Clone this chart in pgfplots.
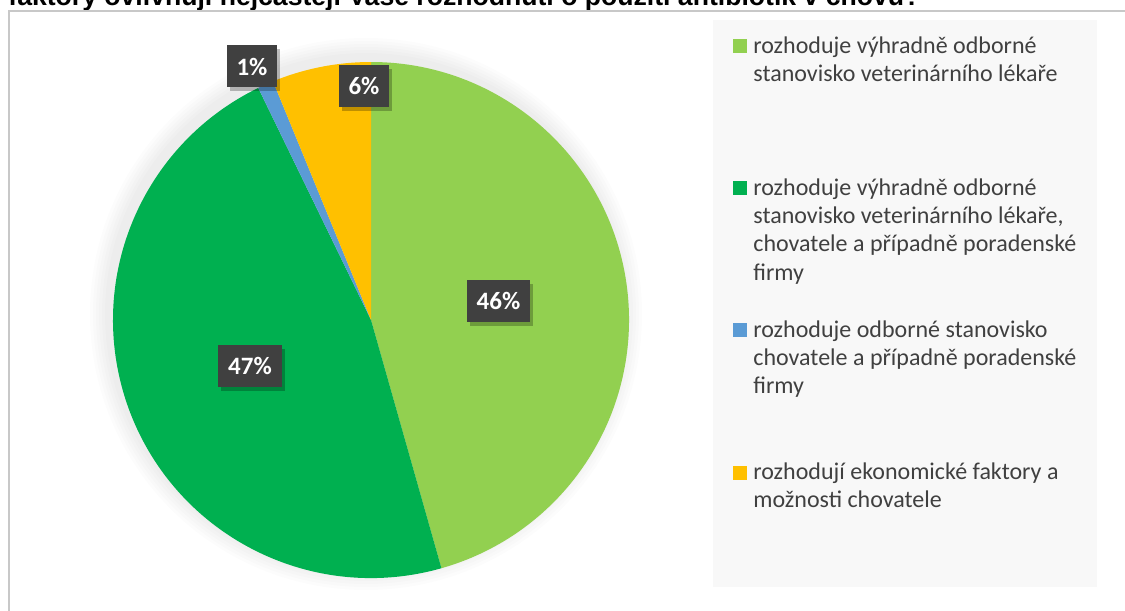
\documentclass[border=0pt]{standalone}
\usepackage{pgfplots}
\usepackage{pgfplotstable}
\pgfplotsset{compat=1.18}
\usepackage{fontspec}
\setmainfont{Carlito}
\newfontfamily\titlefont{Liberation Sans}

\definecolor{pie0}{HTML}{92D050}
\definecolor{pie1}{HTML}{00B050}
\definecolor{pie2}{HTML}{5B9BD5}
\definecolor{pie3}{HTML}{FFC000}
\definecolor{lblgray}{HTML}{404040}
\definecolor{legbg}{HTML}{F8F8F8}
\definecolor{framegray}{HTML}{C8C8C8}

% shares in percent, clockwise from 12 o'clock (labels show them rounded)
\pgfplotstableread{
share
45.6
47.2
1.0
6.2
}\pietable

\newcommand\legline[2]{\node[anchor=base west, inner sep=0pt, text=lblgray, font=\fontsize{12bp}{14bp}\selectfont] at (753,#1) {#2};}

\begin{document}
\begin{tikzpicture}[x=0.5bp, y=-0.5bp]
\clip (0,0) rectangle (1125,610);
\path[fill=white] (0,0) rectangle (1125,610);

% title, cut at the top as in the original
\node[anchor=base west, inner sep=0pt, font=\titlefont\bfseries\fontsize{13.3bp}{15bp}\selectfont] at (8,6)
  {faktory ovlivňují nejčastěji Vaše rozhodnutí o použití antibiotik v chovu?};

% chart frame
\draw[framegray, line width=1bp] (9,640) -- (9,11.5) -- (1140,11.5);

% soft shadow round the pie
\foreach \k in {1,...,6} {
  \fill[black, opacity=0.01] (366,314) circle[radius={(258+3*\k)*0.5bp}];
}

\begin{axis}[
  at={(185.5bp,-160bp)}, anchor=center,
  hide axis, scale only axis,
  width=283.8bp, height=283.8bp,
  xmin=-1.1, xmax=1.1, ymin=-1.1, ymax=1.1,
]
\def\angstart{90}
\pgfplotsinvokeforeach{0,...,3}{
  \pgfplotstablegetelem{#1}{share}\of\pietable
  \pgfmathsetmacro\angend{\angstart-3.6*\pgfplotsretval}
  \edef\temp{\noexpand\fill[pie#1] (axis cs:0,0) -- (axis cs:{cos(\angstart)},{sin(\angstart)})
    arc[start angle=\angstart, end angle=\angend, radius=129bp] -- cycle;}
  \temp
  \global\let\angstart\angend
}
\end{axis}

% data labels
\tikzset{lbl/.style={fill=lblgray, text=white, inner xsep=4.9bp, inner ysep=0pt,
  minimum height=21bp, font=\bfseries\fontsize{12.5bp}{14bp}\selectfont}}
\foreach \px/\py/\t in {498.5/301/46\%, 250/366/47\%, 252/66.5/1\%, 364/86/6\%} {
  \node[lbl, fill=black, opacity=0.25, anchor=center] at (\px+3,\py+4) {\phantom{\t}};
  \node[lbl, anchor=center] at (\px,\py) {\t};
}

% legend
\fill[legbg] (713,20) rectangle (1097,587);
\fill[pie0] (733,39) rectangle (747,53);
\fill[pie1] (733,181) rectangle (747,195);
\fill[pie2] (733,323) rectangle (747,337);
\fill[pie3] (733,466) rectangle (747,480);
\legline{53.5}{rozhoduje výhradně odborné}
\legline{81.7}{stanovisko veterinárního lékaře}
\legline{195.5}{rozhoduje výhradně odborné}
\legline{223.7}{stanovisko veterinárního lékaře,}
\legline{251.9}{chovatele a případně poradenské}
\legline{280.1}{firmy}
\legline{337.5}{rozhoduje odborné stanovisko}
\legline{365.7}{chovatele a případně poradenské}
\legline{393.9}{firmy}
\legline{479.5}{rozhodují ekonomické faktory a}
\legline{507.7}{možnosti chovatele}
\end{tikzpicture}
\end{document}
